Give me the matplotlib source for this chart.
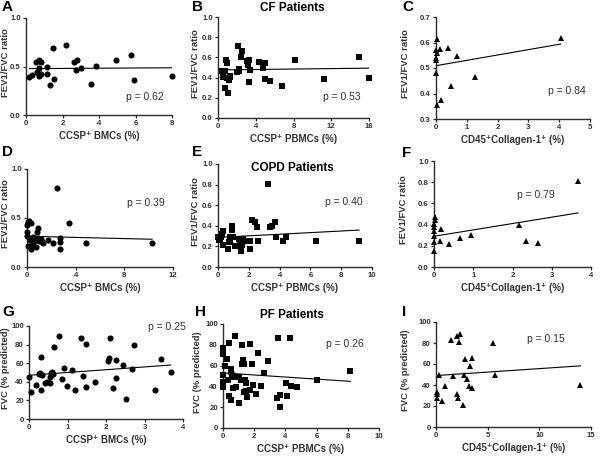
import numpy as np
import matplotlib
matplotlib.use("Agg")
import matplotlib.pyplot as plt

plt.rcParams['font.family'] = ['Liberation Sans', 'DejaVu Sans']

# ---------------- data ----------------
# Panel A: CF, CCSP+ BMCs vs FEV1/FVC
a_x = [0.18, 0.31, 0.53, 0.58, 0.69, 0.71, 0.73, 0.73, 0.80, 0.80, 1.17, 1.17, 1.32, 1.46,
       1.53, 2.19, 2.65, 2.76, 2.79, 3.01, 3.58, 3.84, 4.93, 5.75, 5.94, 7.98]
a_y = [0.39, 0.41, 0.55, 0.44, 0.40, 0.42, 0.57, 0.48, 0.55, 0.42, 0.49, 0.42, 0.31, 0.69,
       0.37, 0.72, 0.55, 0.46, 0.57, 0.48, 0.32, 0.51, 0.57, 0.62, 0.36, 0.40]
a_fit = (0.478, 0.0011)

# Panel B: CF, CCSP+ PBMCs vs FEV1/FVC
b_x = [0.42, 0.49, 0.70, 0.74, 0.85, 0.95, 0.95, 1.09, 1.16, 1.23, 1.23, 2.00, 2.10, 2.20,
       2.20, 2.40, 2.50, 3.07, 3.14, 3.24, 3.31, 3.35, 4.33, 4.76, 4.97, 4.97, 5.46, 6.80,
       8.14, 11.24, 14.98, 15.96]
b_y = [0.47, 0.41, 0.47, 0.30, 0.57, 0.54, 0.40, 0.25, 0.38, 0.41, 0.42, 0.46, 0.71, 0.47,
       0.49, 0.60, 0.66, 0.56, 0.52, 0.57, 0.36, 0.48, 0.55, 0.50, 0.54, 0.39, 0.37, 0.32,
       0.57, 0.39, 0.60, 0.40]
b_fit = (0.476, 0.0011)

# Panel C: CF, CD45+Collagen-1+ vs FEV1/FVC
c_x = [0.02, 0.00, 0.02, 0.00, 0.00, 0.00, 0.02, 0.13, 0.15, 0.38, 0.48, 0.67, 1.28, 4.05]
c_y = [0.614, 0.569, 0.559, 0.539, 0.533, 0.480, 0.356, 0.575, 0.376, 0.578, 0.428, 0.548,
       0.463, 0.618]
c_fit = (0.509, 0.021)

# Panel D: COPD, CCSP+ BMCs vs FEV1/FVC
d_x = [0.03, 0.08, 0.19, 0.33, 0.03, 0.03, 0.08, 0.25, 0.38, 0.33, 0.46, 0.52, 0.60, 0.74,
       0.79, 0.87, 0.93, 1.01, 1.12, 1.20, 1.34, 1.75, 2.10, 2.49, 2.71, 2.71, 2.71, 3.47,
       4.89, 10.28]
d_y = [0.43, 0.46, 0.47, 0.45, 0.36, 0.32, 0.21, 0.28, 0.26, 0.18, 0.31, 0.22, 0.27, 0.20,
       0.36, 0.40, 0.30, 0.27, 0.29, 0.26, 0.24, 0.28, 0.24, 0.81, 0.30, 0.26, 0.18, 0.45,
       0.25, 0.25]
d_fit = (0.314, -0.003)

# Panel E: COPD, CCSP+ PBMCs vs FEV1/FVC
e_x = [0.00, 0.04, 0.11, 0.22, 0.28, 0.32, 0.32, 0.65, 0.71, 0.76, 0.80, 0.91, 0.93, 0.97,
       1.08, 1.23, 1.36, 1.41, 1.52, 1.56, 1.62, 1.95, 2.06, 2.10, 2.23, 2.38, 2.53, 2.60,
       3.25, 3.35, 3.53, 3.68, 3.74, 4.22, 4.40, 6.39, 9.16]
e_y = [0.29, 0.26, 0.27, 0.29, 0.32, 0.35, 0.21, 0.17, 0.24, 0.26, 0.29, 0.36, 0.40, 0.29,
       0.20, 0.20, 0.27, 0.23, 0.16, 0.21, 0.27, 0.25, 0.17, 0.25, 0.46, 0.44, 0.39, 0.25,
       0.81, 0.39, 0.40, 0.44, 0.29, 0.25, 0.29, 0.25, 0.25]
e_fit = (0.287, 0.0078)

# Panel F: COPD, CD45+Collagen-1+ vs FEV1/FVC
f_x = [0.02, 0.02, 0.00, 0.00, 0.00, 0.00, 0.00, 0.00, 0.19, 0.16, 0.38, 0.66, 0.93, 2.17,
       2.34, 2.64, 3.67]
f_y = [0.47, 0.44, 0.41, 0.38, 0.34, 0.29, 0.24, 0.15, 0.36, 0.25, 0.22, 0.27, 0.30, 0.40,
       0.25, 0.23, 0.81]
f_fit = (0.29, 0.06)

# Panel G: PF, CCSP+ BMCs vs FVC
g_x = [0.00, 0.05, 0.18, 0.27, 0.28, 0.30, 0.32, 0.35, 0.42, 0.48, 0.55, 0.55, 0.58, 0.60,
       0.62, 0.65, 0.78, 0.85, 0.90, 0.98, 1.12, 1.20, 1.35, 1.40, 1.47, 1.48, 1.72, 2.05,
       2.08, 2.10, 2.18, 2.25, 2.27, 2.45, 2.53, 2.68, 2.73, 3.28, 3.43, 3.68]
g_y = [45, 29, 37, 48, 50, 31, 67, 47, 39, 40, 39, 45, 49, 51, 48, 77, 89, 43, 55, 35, 53,
       31, 87, 46, 81, 34, 40, 62, 66, 87, 33, 44, 63, 58, 21, 54, 80, 31, 65, 51]
g_fit = (47.0, 3.0)

# Panel H: PF, CCSP+ PBMCs vs FVC
h_x = [0.00, 0.00, 0.10, 0.00, 0.00, 0.00, 0.26, 0.32, 0.36, 0.38, 0.49, 0.53, 0.53, 0.60,
       0.64, 0.64, 0.75, 0.81, 1.00, 1.03, 1.18, 1.24, 1.28, 1.24, 1.32, 1.35, 1.39, 1.45,
       1.50, 1.54, 1.75, 1.75, 1.86, 1.92, 2.14, 2.24, 2.41, 2.60, 2.86, 3.53, 3.46, 3.63,
       3.67, 4.06, 4.10, 4.27, 4.38, 4.74, 6.05, 8.16]
h_y = [77, 71, 60, 51, 44, 39, 66, 46, 82, 31, 27, 57, 54, 51, 49, 38, 88, 39, 24, 49, 46,
       80, 65, 62, 62, 35, 46, 43, 36, 30, 81, 37, 62, 41, 33, 72, 40, 53, 64, 87, 29, 32,
       20, 43, 31, 87, 40, 39, 46, 55]
h_fit = (53.0, -1.0)

# Panel I: PF, CD45+Collagen-1+ vs FVC
i_x = [0.06, 0.06, 0.06, 0.30, 0.55, 0.87, 1.42, 1.62, 2.00, 2.33, 2.26, 2.07, 2.17, 2.65,
       2.75, 2.81, 2.97, 3.23, 3.30, 3.46, 3.52, 5.50, 5.72, 13.97]
i_y = [33, 31, 28, 50, 25, 39, 83, 49, 87, 89, 81, 31, 28, 21, 50, 65, 46, 39, 58, 66, 37,
       80, 50, 40]
i_fit = (49.0, 0.66)

letters = ['A', 'B', 'C', 'D', 'E', 'F', 'G', 'H', 'I']
p_texts = ['p = 0.62', 'p = 0.53', 'p = 0.84', 'p = 0.39', 'p = 0.40', 'p = 0.79',
           'p = 0.25', 'p = 0.26', 'p = 0.15']
group_titles = ['CF Patients', 'COPD Patients', 'PF Patients']
xlabels = ['CCSP⁺ BMCs (%)', 'CCSP⁺ PBMCs (%)', 'CD45⁺Collagen-1⁺ (%)']
ylabels = ['FEV1/FVC ratio', 'FEV1/FVC ratio', 'FVC (% predicted)']

# ---------------- layout ----------------
W, H = 600, 458
fig = plt.figure(figsize=(6.0, 4.58), dpi=100)

def rect(x0, x1, ytop, ybot):
    return [x0 / W, 1 - ybot / H, (x1 - x0) / W, (ybot - ytop) / H]

px_boxes = [(26, 172, 18, 115), (218, 369, 17, 118), (436, 590, 17, 119),
            (27, 173, 169, 267), (218, 372, 164, 267), (434, 591, 161, 267),
            (29, 183, 326, 419), (223, 379, 324, 428), (436, 591, 322, 427)]

panels = [
    (a_x, a_y, a_fit, 'o', (0, 8, [0, 2, 4, 6, 8]), (0, 1, [0.0, 0.5, 1.0]), '{:.1f}'),
    (b_x, b_y, b_fit, 's', (0, 16, [0, 4, 8, 12, 16]), (0, 1, [0, .2, .4, .6, .8, 1.0]), '{:.1f}'),
    (c_x, c_y, c_fit, '^', (0, 5, [0, 1, 2, 3, 4, 5]), (0.3, 0.7, [.3, .4, .5, .6, .7]), '{:.1f}'),
    (d_x, d_y, d_fit, 'o', (0, 12, [0, 4, 8, 12]), (0, 1, [0.0, 0.5, 1.0]), '{:.1f}'),
    (e_x, e_y, e_fit, 's', (0, 10, [0, 2, 4, 6, 8, 10]), (0, 1, [0, .2, .4, .6, .8, 1.0]), '{:.1f}'),
    (f_x, f_y, f_fit, '^', (0, 4, [0, 1, 2, 3, 4]), (0, 1, [0, .2, .4, .6, .8, 1.0]), '{:.1f}'),
    (g_x, g_y, g_fit, 'o', (0, 4, [0, 1, 2, 3, 4]), (0, 100, [0, 20, 40, 60, 80, 100]), '{:.0f}'),
    (h_x, h_y, h_fit, 's', (0, 10, [0, 2, 4, 6, 8, 10]), (0, 100, [0, 20, 40, 60, 80, 100]), '{:.0f}'),
    (i_x, i_y, i_fit, '^', (0, 15, [0, 5, 10, 15]), (0, 100, [0, 20, 40, 60, 80, 100]), '{:.0f}'),
]

p_pos = [(0.815, 0.19), (0.82, 0.21), (0.85, 0.27), (0.815, 0.65), (0.82, 0.63),
         (0.65, 0.68), (0.895, 0.99), (0.78, 0.81), (0.71, 0.84)]

# y-label centre x position in pixels
ylab_px = [6, 196, 405, 6, 196, 404, 6, 197, 405]

axcol = '#2b2b2b'
txtcol = '#333333'

for k, (xs, ys, fit, mk, xinfo, yinfo, yfmt) in enumerate(panels):
    x0, x1, yt, yb = px_boxes[k]
    ax = fig.add_axes(rect(x0, x1, yt, yb))
    xs = np.asarray(xs)
    ys = np.asarray(ys)
    ms = 4.4 if mk != '^' else 4.8
    ax.plot(xs, ys, linestyle='none', marker=mk, color='black', markersize=ms,
            markeredgewidth=0, clip_on=False, zorder=3)
    xx = np.array([xs.min(), xs.max()])
    ax.plot(xx, fit[0] + fit[1] * xx, color='black', lw=0.8, zorder=2)
    ax.set_xlim(xinfo[0], xinfo[1])
    ax.set_ylim(yinfo[0], yinfo[1])
    ax.set_xticks(xinfo[2])
    ax.set_yticks(yinfo[2])
    ax.set_yticklabels([yfmt.format(v) for v in yinfo[2]])
    ax.set_xticklabels([str(v) for v in xinfo[2]])
    for s in ['top', 'right']:
        ax.spines[s].set_visible(False)
    for s in ['left', 'bottom']:
        ax.spines[s].set_color(axcol)
        ax.spines[s].set_linewidth(1.0)
    ax.tick_params(direction='out', length=2.5, width=0.9, colors=axcol, labelsize=5.6,
                   pad=1.2, labelcolor=txtcol)
    for lab in ax.get_xticklabels() + ax.get_yticklabels():
        lab.set_fontweight('bold')
    col = k % 3
    ax.set_xlabel(xlabels[col], fontsize=7, fontweight='bold', color=txtcol, labelpad=3)
    fig.text(ylab_px[k] / W, 1 - ((yt + yb) / 2 - 4) / H, ylabels[k // 3], rotation=90,
             fontsize=6.8, fontweight='bold', color=txtcol, ha='center', va='center')
    ax.text(p_pos[k][0], p_pos[k][1], p_texts[k], transform=ax.transAxes, fontsize=7.5,
            color=txtcol, ha='center', va='center')

# panel letters
letter_pos = [(2, 7), (192, 7), (402, 7), (2, 152), (192, 152), (402, 153),
              (2, 312), (195, 312), (402, 312)]
for L, (px, py) in zip(letters, letter_pos):
    fig.text(px / W, 1 - py / H, L, fontsize=11, fontweight='bold', color='black',
             ha='left', va='center')

# group titles
title_pos = [(292, 8), (292, 168), (292, 315)]
for t, (px, py) in zip(group_titles, title_pos):
    fig.text(px / W, 1 - py / H, t, fontsize=8.5, fontweight='bold', color='black',
             ha='center', va='center')

fig.savefig('out.png', dpi=100)
